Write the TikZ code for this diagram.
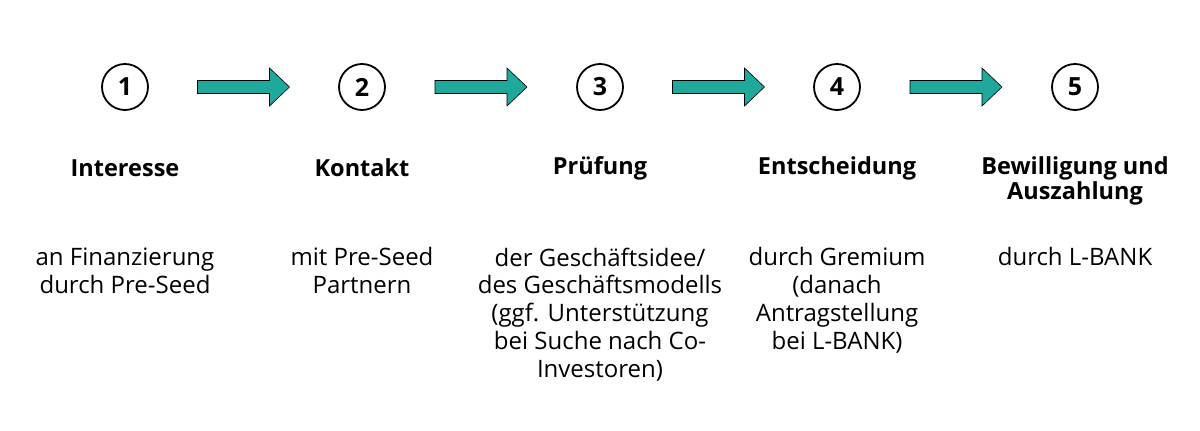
\documentclass[tikz,border=0pt]{standalone}
\usepackage{fontspec}
\setmainfont{Open Sans}
\usetikzlibrary{calc}
\definecolor{teal1}{HTML}{1FA89C}
\begin{document}
\begin{tikzpicture}[x=1pt,y=-1pt,
  numcirc/.style={circle,draw=black,line width=1.8pt,minimum size=46pt,inner sep=0pt,font=\fontsize{25}{25}\selectfont\bfseries},
  steptitle/.style={align=center,font=\fontsize{23.5}{25}\selectfont\bfseries},
  stepdesc/.style={align=center,font=\fontsize{24}{27.75}\selectfont,anchor=north,inner sep=0pt},
  flowarrow/.style={draw=black,line width=0.6pt,fill=teal1}]
\useasboundingbox (0,0) rectangle (1200,431);
\foreach \i/\x in {1/125,2/362,3/600,4/837,5/1075}{
  \node[numcirc] (c\i) at (\x,87) {\i};
}
\foreach \a/\b in {1/2,2/3,3/4,4/5}{
  \coordinate (m\a) at ($(c\a)!0.5!(c\b)$);
  \draw[flowarrow] ($(m\a)+(-46,-6.5)$) -- ($(m\a)+(26,-6.5)$) -- ($(m\a)+(26,-19)$)
     -- ($(m\a)+(46,0)$) -- ($(m\a)+(26,19)$) -- ($(m\a)+(26,6.5)$) -- ($(m\a)+(-46,6.5)$) -- cycle;
}
\node[steptitle] (t1) at (125,168) {Interesse};
\node[steptitle] (t2) at (362,168) {Kontakt};
\node[steptitle] (t3) at (600,168) {Prüfung};
\node[steptitle] (t4) at (837,168) {Entscheidung};
\node[steptitle] (t5) at (1075,180.5) {Bewilligung und\\Auszahlung};
\node[stepdesc] (d1) at (125,247.5) {an Finanzierung\\durch Pre-Seed};
\node[stepdesc] (d2) at (362,247.5) {mit Pre-Seed\\Partnern};
\node[stepdesc] (d3) at (600,247.5) {der Geschäftsidee/\\des Geschäftsmodells\\(ggf. Unterstützung\\bei Suche nach Co-\\Investoren)};
\node[stepdesc] (d4) at (837,247.5) {durch Gremium\\(danach\\Antragstellung\\bei L-BANK)};
\node[stepdesc] (d5) at (1075,247.5) {durch L-BANK};
\end{tikzpicture}
\end{document}
